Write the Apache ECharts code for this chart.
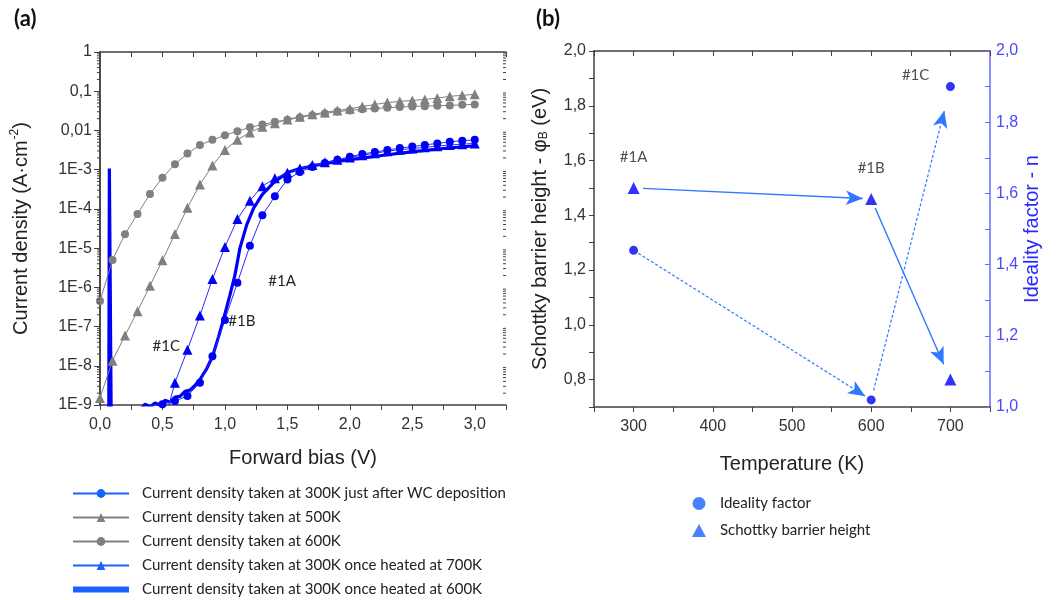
<!DOCTYPE html>
<html><head><meta charset="utf-8">
<script src="https://cdn.jsdelivr.net/npm/echarts@6/dist/echarts.min.js"></script>
<style>html,body{margin:0;padding:0;background:#fff}#c{width:1057px;height:600px}</style>
</head><body><div id="c"></div>
<script>
// ---------- Panel (a) data: forward bias (V) and log10 of current density (A/cm2) ----------
const seriesNames = [
  'Current density taken at 300K just after WC deposition',
  'Current density taken at 500K',
  'Current density taken at 600K',
  'Current density taken at 300K once heated at 700K',
  'Current density taken at 300K once heated at 600K'
];
const V_500K = [0.0,0.1,0.2,0.3,0.4,0.5,0.6,0.7,0.8,0.9,1.0,1.1,1.2,1.3,1.4,1.5,1.6,1.7,1.8,1.9,2.0,2.1,2.2,2.3,2.4,2.5,2.6,2.7,2.8,2.9,3.0];
const logJ_500K = [-8.82,-7.87,-7.23,-6.61,-5.96,-5.31,-4.64,-3.97,-3.375,-2.895,-2.50,-2.24,-2.05,-1.905,-1.815,-1.72,-1.65,-1.59,-1.54,-1.49,-1.45,-1.39,-1.337,-1.29,-1.26,-1.234,-1.21,-1.175,-1.13,-1.105,-1.08];
const V_600K = [0.0,0.1,0.2,0.3,0.4,0.5,0.6,0.7,0.8,0.9,1.0,1.1,1.2,1.3,1.4,1.5,1.6,1.7,1.8,1.9,2.0,2.1,2.2,2.3,2.4,2.5,2.6,2.7,2.8,2.9,3.0];
const logJ_600K = [-6.35,-5.30,-4.645,-4.13,-3.62,-3.205,-2.86,-2.59,-2.37,-2.24,-2.125,-2.02,-1.92,-1.85,-1.78,-1.73,-1.67,-1.61,-1.57,-1.52,-1.49,-1.457,-1.44,-1.42,-1.405,-1.388,-1.38,-1.37,-1.362,-1.345,-1.337];
const V_1A = [0.4,0.5,0.6,0.7,0.8,0.9,1.0,1.1,1.2,1.3,1.4,1.5,1.6,1.7,1.8,1.9,2.0,2.1,2.2,2.3,2.4,2.5,2.6,2.7,2.8,2.9,3.0];
const logJ_1A = [-9.02,-8.98,-8.9,-8.77,-8.43,-7.76,-6.83,-5.88,-4.94,-4.16,-3.68,-3.25,-3.06,-2.93,-2.83,-2.75,-2.67,-2.60,-2.55,-2.50,-2.45,-2.41,-2.37,-2.33,-2.29,-2.26,-2.24];
const V_1C = [0.5,0.6,0.7,0.8,0.9,1.0,1.1,1.2,1.3,1.4,1.5,1.6,1.7,1.8,1.9,2.0,2.1,2.2,2.3,2.4,2.5,2.6,2.7,2.8,2.9,3.0];
const logJ_1C = [-9.6,-8.43,-7.59,-6.72,-5.79,-4.97,-4.26,-3.79,-3.42,-3.22,-3.08,-2.97,-2.88,-2.81,-2.75,-2.69,-2.63,-2.58,-2.53,-2.49,-2.46,-2.43,-2.40,-2.37,-2.35,-2.33];
const V_1B = [0.0,0.07,0.075,0.085,0.09,0.33,0.36,0.40,0.44,0.48,0.52,0.56,0.60,0.64,0.68,0.72,0.76,0.80,0.85,0.90,0.95,0.99,1.04,1.08,1.12,1.175,1.23,1.30,1.39,1.50,1.60,1.71,1.90,2.08,2.30,2.51,2.75,3.0];
const logJ_1B = [-9.5,-9.5,-2.97,-2.97,-9.5,-9.1,-8.98,-9.05,-8.95,-9.0,-8.88,-8.93,-8.8,-8.78,-8.65,-8.62,-8.5,-8.35,-8.1,-7.77,-7.25,-6.80,-6.2,-5.69,-5.0,-4.40,-3.98,-3.63,-3.33,-3.07,-2.97,-2.90,-2.79,-2.71,-2.62,-2.54,-2.46,-2.39];
const annotA = ['#1A','#1B','#1C'];

// ---------- Panel (b) data ----------
const temperatures = [300, 600, 700];
const barrierHeight = [1.50, 1.46, 0.80];
const idealityFactor = [1.44, 1.02, 1.90];
const sampleLabels = ['#1A','#1B','#1C'];

const pairs = (xs, ls) => xs.map((x, i) => [x, Math.pow(10, ls[i])]);
const comma = (v, d) => v.toFixed(d).replace('.', ',');

const BLUE = '#0000f5', BLUE_LINE = '#2a2aff', GRAY = '#808080', LEG_BLUE = '#1a62ff', ARROW = '#2f78ff';
const AX = '#404040';
const FONT = 'Liberation Sans';

function seg(xs, ys, i, a, b) {
  const x0 = xs[i], y0 = ys[i], x1 = xs[i+1], y1 = ys[i+1];
  return [{coord: [x0 + (x1-x0)*a, y0 + (y1-y0)*a]}, {coord: [x0 + (x1-x0)*(1-b), y0 + (y1-y0)*(1-b)]}];
}

// minor tick values of the log axis (2..9 x each decade) - axis decoration only
const minorLog = [];
for (let e = -9; e < 0; e++) for (let m = 2; m <= 9; m++) minorLog.push(m * Math.pow(10, e));

const chart = echarts.init(document.getElementById('c'), null, {renderer: 'canvas'});

const tickLabel = {fontFamily: FONT, fontSize: 16, color: '#333'};
const nameStyle = {fontFamily: FONT, fontSize: 20, color: '#222'};

const option = {
  animation: false,
  backgroundColor: '#fff',
  graphic: [
    {type: 'text', left: 14, top: 8, style: {text: '(a)', fontFamily: 'Lato', fontWeight: 'bold', fontSize: 22, fill: '#111'}},
    {type: 'text', left: 536, top: 8, style: {text: '(b)', fontFamily: 'Lato', fontWeight: 'bold', fontSize: 22, fill: '#111'}}
  ],
  grid: [
    {left: 100, top: 52, width: 406, height: 353},
    {left: 594, top: 51, width: 396, height: 356}
  ],
  legend: [
    {
      orient: 'vertical', left: 72, top: 486, padding: 0, itemWidth: 56, itemHeight: 11, itemGap: 9,
      textStyle: {fontFamily: 'Lato', fontSize: 15, color: '#222', padding: [0, 0, 0, 8]},
      data: [
        {name: seriesNames[0], itemStyle: {color: LEG_BLUE}, lineStyle: {color: LEG_BLUE, width: 2}},
        {name: seriesNames[1], itemStyle: {color: GRAY}, lineStyle: {color: GRAY, width: 2}},
        {name: seriesNames[2], itemStyle: {color: GRAY}, lineStyle: {color: GRAY, width: 2}},
        {name: seriesNames[3], itemStyle: {color: LEG_BLUE}, lineStyle: {color: LEG_BLUE, width: 2}},
        {name: seriesNames[4], icon: 'path://M0,0h0.01v0.01h-0.01z M0,2.5h56v6h-56z M0,11h0.01v0.01h-0.01z', itemStyle: {color: LEG_BLUE}}
      ]
    },
    {
      orient: 'vertical', left: 692, top: 496, padding: 0, itemWidth: 14, itemHeight: 13, itemGap: 12,
      textStyle: {fontFamily: 'Lato', fontSize: 15, color: '#222', padding: [0, 0, 0, 9]},
      data: [
        {name: 'Ideality factor', itemStyle: {color: LEG_BLUE}},
        {name: 'Schottky barrier height', itemStyle: {color: LEG_BLUE}}
      ]
    }
  ],
  xAxis: [
    {
      type: 'value', gridIndex: 0, min: 0, max: 3.25, interval: 0.25,
      name: 'Forward bias (V)', nameLocation: 'middle', nameGap: 43, nameTextStyle: nameStyle,
      axisLine: {lineStyle: {color: AX, width: 1.5}},
      axisTick: {inside: false, length: 5, lineStyle: {color: AX}},
      axisLabel: {...tickLabel, margin: 12, formatter: v => (Math.round(v * 100) % 50 === 0 ? comma(v, 1) : '')},
      splitLine: {show: false}
    },
    {
      type: 'value', gridIndex: 0, position: 'top', min: 0, max: 3.25, interval: 0.25,
      axisLine: {lineStyle: {color: AX, width: 1.5}},
      axisTick: {inside: true, length: 5, lineStyle: {color: AX}},
      axisLabel: {show: false}, splitLine: {show: false}
    },
    {
      type: 'value', gridIndex: 1, min: 250, max: 750, interval: 50,
      name: 'Temperature (K)', nameLocation: 'middle', nameGap: 47, nameTextStyle: nameStyle,
      axisLine: {lineStyle: {color: AX, width: 1.5}},
      axisTick: {inside: false, length: 5, lineStyle: {color: AX}},
      axisLabel: {...tickLabel, margin: 12, formatter: v => (v % 100 === 0 ? String(v) : '')},
      splitLine: {show: false}
    },
    {
      type: 'value', gridIndex: 1, position: 'top', min: 250, max: 750, interval: 50,
      axisLine: {lineStyle: {color: AX, width: 1.5}},
      axisTick: {inside: true, length: 5, lineStyle: {color: AX}},
      axisLabel: {show: false}, splitLine: {show: false}
    }
  ],
  yAxis: [
    {
      type: 'log', logBase: 10, gridIndex: 0, min: 1e-9, max: 1, interval: 1,
      name: '{a|Current density (A·cm}{s|-2}{a|)}', nameLocation: 'middle', nameGap: 67,
      nameTextStyle: {...nameStyle, rich: {a: {fontFamily: FONT, fontSize: 20, color: '#222'}, s: {fontFamily: FONT, fontSize: 12, color: '#222', verticalAlign: 'top', padding: [0, 0, 12, 1]}}},
      axisLine: {show: true, lineStyle: {color: AX, width: 1.5}},
      axisTick: {inside: false, length: 6, lineStyle: {color: AX}},
      axisLabel: {...tickLabel, margin: 8, formatter: v => {
        const e = Math.round(Math.log10(v));
        if (e === 0) return '1';
        if (e === -1) return '0,1';
        if (e === -2) return '0,01';
        return '1E' + e;
      }},
      splitLine: {show: false}
    },
    {
      type: 'log', logBase: 10, gridIndex: 0, position: 'right', min: 1e-9, max: 1, interval: 1,
      axisLine: {show: true, lineStyle: {color: AX, width: 1.5}},
      axisTick: {inside: true, length: 6, lineStyle: {color: AX}},
      axisLabel: {show: false}, splitLine: {show: false}
    },
    {
      type: 'value', gridIndex: 1, min: 0.7, max: 2.0, interval: 0.1,
      name: '{a|Schottky barrier height - φ}{b|B}{a| (eV)}', nameLocation: 'middle', nameGap: 44,
      nameTextStyle: {...nameStyle, rich: {a: {fontFamily: FONT, fontSize: 20, color: '#222'}, b: {fontFamily: FONT, fontSize: 12, color: '#222', verticalAlign: 'bottom', padding: [8, 0, 0, 0]}}},
      axisLine: {show: true, lineStyle: {color: AX, width: 1.5}},
      axisTick: {inside: false, length: 5, lineStyle: {color: AX}},
      axisLabel: {...tickLabel, margin: 8, formatter: v => (Math.round(v * 10) % 2 === 0 ? comma(v, 1) : '')},
      splitLine: {show: false}
    },
    {
      type: 'value', gridIndex: 1, position: 'right', min: 1.0, max: 2.0, interval: 0.1,
      name: 'Ideality factor - n', nameLocation: 'middle', nameGap: 30,
      nameTextStyle: {fontFamily: FONT, fontSize: 20, color: '#2a2aff'},
      axisLine: {show: true, lineStyle: {color: '#6a6aff', width: 1.5}},
      axisTick: {inside: true, length: 5, lineStyle: {color: '#6a6aff'}},
      axisLabel: {fontFamily: FONT, fontSize: 16, color: '#4a4aff', margin: 6, formatter: v => (Math.round(v * 10) % 2 === 0 ? comma(v, 1) : '')},
      splitLine: {show: false}
    }
  ],
  series: [
    {
      name: seriesNames[4], type: 'line', xAxisIndex: 0, yAxisIndex: 0, clip: true,
      data: pairs(V_1B, logJ_1B), symbol: 'none', color: BLUE,
      lineStyle: {color: BLUE, width: 3.2}, z: 2
    },
    {
      name: seriesNames[1], type: 'line', xAxisIndex: 0, yAxisIndex: 0, clip: true,
      data: pairs(V_500K, logJ_500K), symbol: 'triangle', symbolSize: 10, color: GRAY,
      itemStyle: {color: GRAY}, lineStyle: {color: GRAY, width: 1}, z: 3
    },
    {
      name: seriesNames[2], type: 'line', xAxisIndex: 0, yAxisIndex: 0, clip: true,
      data: pairs(V_600K, logJ_600K), symbol: 'circle', symbolSize: 8, color: GRAY,
      itemStyle: {color: GRAY}, lineStyle: {color: GRAY, width: 1}, z: 3
    },
    {
      name: seriesNames[3], type: 'line', xAxisIndex: 0, yAxisIndex: 0, clip: true,
      data: pairs(V_1C, logJ_1C), symbol: 'triangle', symbolSize: 10, color: BLUE,
      itemStyle: {color: BLUE}, lineStyle: {color: BLUE_LINE, width: 1}, z: 4,
      markPoint: {symbol: 'circle', symbolSize: 0, silent: true, label: {show: true, fontFamily: 'Lato', fontSize: 15, color: '#222', position: 'inside', formatter: p => p.name},
        data: [{name: annotA[2], coord: [0.53, 3.2e-8]}]}
    },
    {
      name: seriesNames[0], type: 'line', xAxisIndex: 0, yAxisIndex: 0, clip: true,
      data: pairs(V_1A, logJ_1A), symbol: 'circle', symbolSize: 8, color: BLUE,
      itemStyle: {color: BLUE}, lineStyle: {color: BLUE_LINE, width: 1}, z: 4,
      markPoint: {symbol: 'circle', symbolSize: 0, silent: true, label: {show: true, fontFamily: 'Lato', fontSize: 15, color: '#222', position: 'inside', formatter: p => p.name},
        data: [{name: annotA[0], coord: [1.457, 1.4e-6]}, {name: annotA[1], coord: [1.135, 1.4e-7]}]}
    },
    {
      name: 'Ideality factor', type: 'scatter', xAxisIndex: 2, yAxisIndex: 3,
      data: temperatures.map((t, i) => ({value: [t, idealityFactor[i]],
        label: i === 2 ? {show: true, formatter: sampleLabels[2], position: [-44, -14], fontFamily: 'Lato', fontSize: 15, color: '#222'} : {show: false}})),
      symbol: 'circle', symbolSize: 9, itemStyle: {color: BLUE}, z: 5,
      markLine: {silent: true, symbol: ['none', 'arrow'], symbolSize: [11, 17], label: {show: false},
        lineStyle: {color: ARROW, width: 1.2, type: [3, 2]},
        data: [seg(temperatures, idealityFactor, 0, 0.02, 0.025), seg(temperatures, idealityFactor, 1, 0.03, 0.077)]}
    },
    {
      name: 'Schottky barrier height', type: 'scatter', xAxisIndex: 2, yAxisIndex: 2,
      data: temperatures.map((t, i) => ({value: [t, barrierHeight[i]],
        label: i < 2 ? {show: true, formatter: sampleLabels[i], position: 'top', distance: 17, fontFamily: 'Lato', fontSize: 15, color: '#222'} : {show: false}})),
      symbol: 'triangle', symbolSize: 12, itemStyle: {color: BLUE}, z: 5,
      markLine: {silent: true, symbol: ['none', 'arrow'], symbolSize: [11, 17], label: {show: false},
        lineStyle: {color: ARROW, width: 1.4, type: 'solid'},
        data: [seg(temperatures, barrierHeight, 0, 0.04, 0.035), seg(temperatures, barrierHeight, 1, 0.05, 0.085)]}
    }
  ]
};
chart.setOption(option);

// minor log ticks placed through the axis scale (decoration of the log axis)
const gridRect = chart.getModel().getComponent('grid', 0).coordinateSystem.getRect();
const minorEls = [];
minorLog.forEach(v => {
  const y = chart.convertToPixel({yAxisIndex: 0}, v);
  minorEls.push({type: 'line', silent: true, z: 10, shape: {x1: gridRect.x - 3, y1: y, x2: gridRect.x, y2: y}, style: {stroke: AX, lineWidth: 1}});
  minorEls.push({type: 'line', silent: true, z: 10, shape: {x1: gridRect.x + gridRect.width - 3, y1: y, x2: gridRect.x + gridRect.width, y2: y}, style: {stroke: AX, lineWidth: 1}});
});
chart.setOption({graphic: option.graphic.concat(minorEls)});
</script></body></html>
